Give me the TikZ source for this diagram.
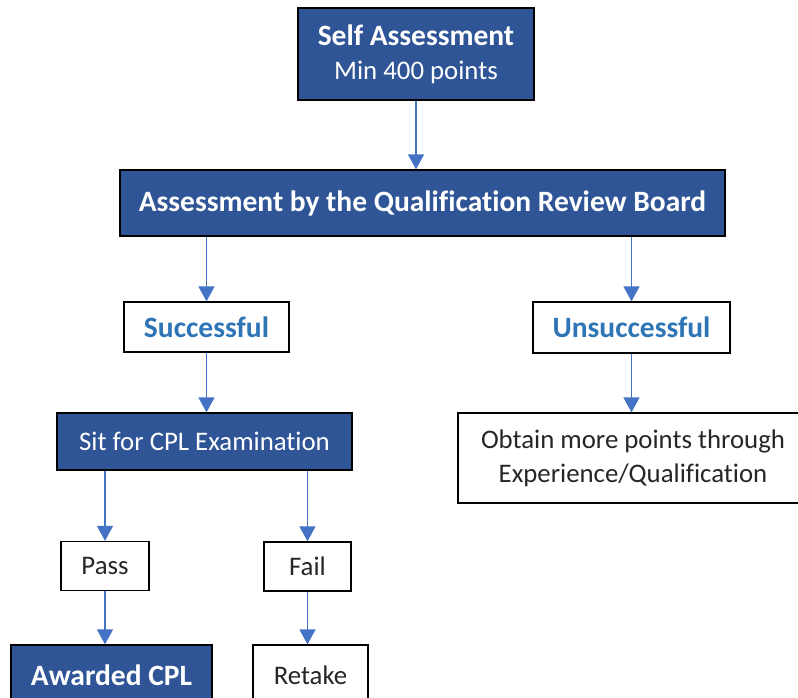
\documentclass[tikz,border=0pt]{standalone}
\usepackage{fontspec}
\setmainfont{Carlito}[Ligatures=NoCommon]
\usetikzlibrary{arrows.meta}
\definecolor{boxblue}{HTML}{2F5597}
\definecolor{textblue}{HTML}{2E75B6}
\definecolor{arrowblue}{HTML}{4472C4}
\definecolor{textgray}{HTML}{262626}
\newcommand{\bigbf}[1]{{\fontsize{29.5}{34}\selectfont\bfseries #1}}
\tikzset{
  darkbox/.style={draw=black, line width=1.3pt, fill=boxblue, text=white, inner sep=0pt, align=center},
  whitebox/.style={draw=black, line width=1.3pt, fill=white, text=textgray, inner sep=0pt, align=center},
  flow/.style={draw=arrowblue, line width=1.5pt, -{Triangle[width=16pt,length=15pt]}},
  every node/.style={font=\fontsize{26.8}{34}\selectfont},
}
\begin{document}
\begin{tikzpicture}[x=1pt,y=-1pt]
\useasboundingbox (0,0) rectangle (798,697);
\clip (0,0) rectangle (798,697);

\node[darkbox, minimum width=236pt, minimum height=92pt] (self) at (416,54) {\bigbf{Self Assessment}\\Min 400 points};
\node[darkbox, minimum width=605pt, minimum height=66pt] (qrb) at (422.5,203) {\bigbf{Assessment by the Qualification Review Board}};

\node[whitebox, minimum width=165pt, minimum height=50pt, text=textblue] (succ) at (206.5,327) {\bigbf{Successful}};
\node[whitebox, minimum width=197pt, minimum height=51pt, text=textblue] (unsucc) at (631.5,327.5) {\bigbf{Unsuccessful}};

\node[darkbox, minimum width=295pt, minimum height=57pt] (sit) at (204.5,441.5) {Sit for CPL Examination};
\node[whitebox, minimum width=350pt, minimum height=90pt] (obtain) at (633,458) {Obtain more points through\\Experience/Qualification};

\node[whitebox, minimum width=88pt, minimum height=49pt] (pass) at (105,566) {Pass};
\node[whitebox, minimum width=87pt, minimum height=49pt] (fail) at (307.5,566.5) {Fail};

\node[darkbox, minimum width=201pt, minimum height=60pt] (award) at (111.5,675) {\bigbf{Awarded CPL}};
\node[whitebox, minimum width=115pt, minimum height=60pt] (retake) at (310.5,675) {Retake};

% connectors
\draw[flow] (self.south) -- (self.south |- qrb.north);
\draw[flow] (qrb.south -| succ.north) -- (succ.north);
\draw[flow] (qrb.south -| unsucc.north) -- (unsucc.north);
\draw[flow] (succ.south) -- (succ.south |- sit.north);
\draw[flow] (unsucc.south) -- (unsucc.south |- obtain.north);
\draw[flow] (sit.south -| pass.north) -- (pass.north);
\draw[flow] (sit.south -| fail.north) -- (fail.north);
\draw[flow] (pass.south) -- (pass.south |- award.north);
\draw[flow] (fail.south) -- (fail.south |- retake.north);
\end{tikzpicture}
\end{document}
